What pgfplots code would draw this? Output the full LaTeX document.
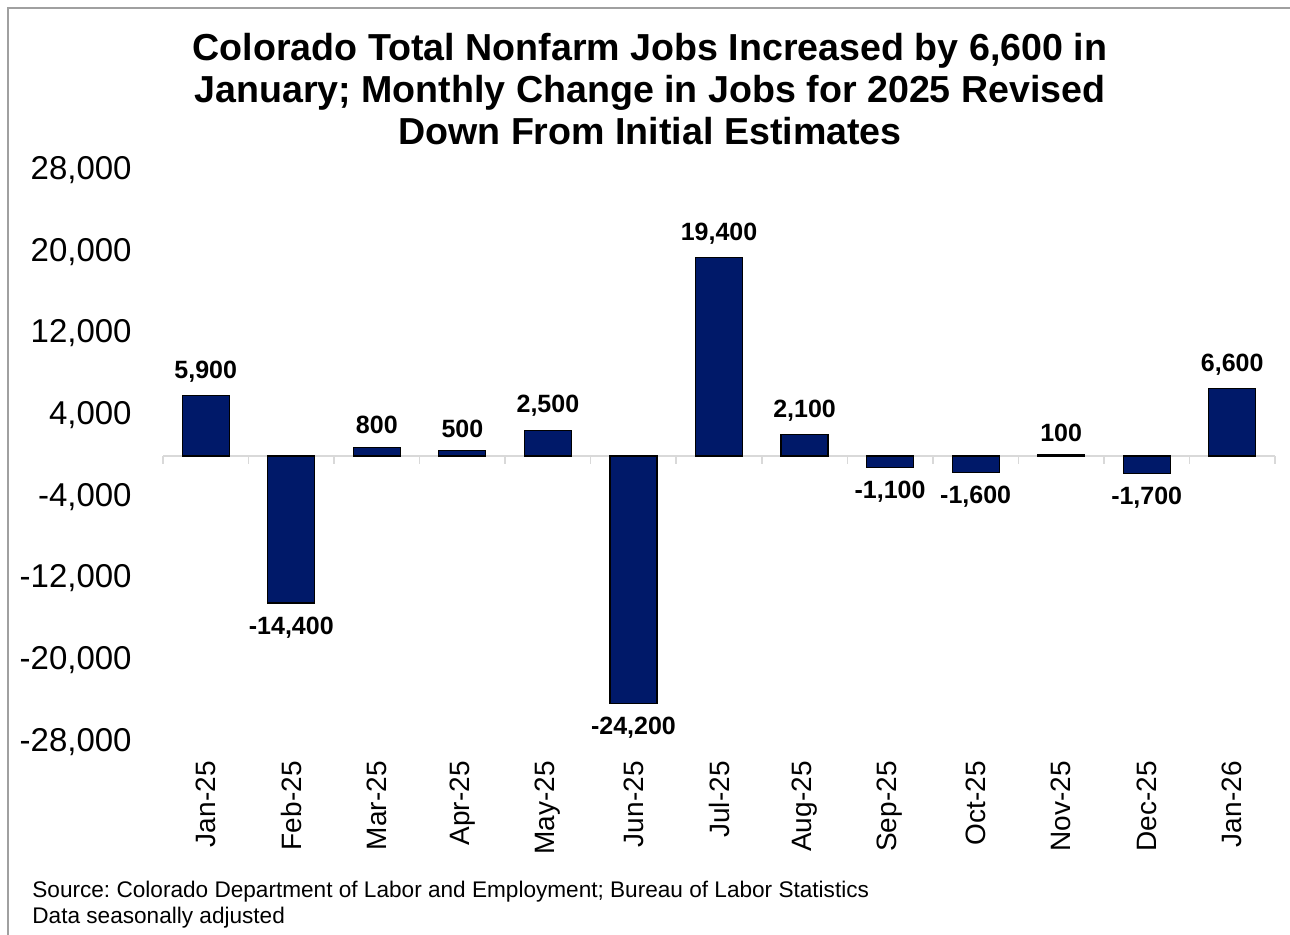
\documentclass[border=0pt]{standalone}
\usepackage{fontspec}
\setmainfont{Liberation Sans}
\usepackage{pgfplots}
\pgfplotsset{compat=1.18}
\definecolor{barnavy}{RGB}{0,25,105}
\definecolor{axisgray}{RGB}{217,217,217}
\definecolor{framegray}{RGB}{160,160,160}
\frenchspacing

\begin{document}
\begin{tikzpicture}
\useasboundingbox (0,0) rectangle (645pt,-467.5pt);
% outer frame (only top and left edges are visible)
\draw[framegray, line width=0.75pt] (4pt,-467.5pt) -- (4pt,-4pt) -- (645pt,-4pt);

\node[align=center, font=\fontsize{18.8}{21}\selectfont\bfseries] at (325pt,-44.5pt)
  {Colorado Total Nonfarm Jobs Increased by 6,600 in\\January; Monthly Change in Jobs for 2025 Revised\\Down From Initial Estimates};

\begin{axis}[
    at={(81.5pt,-371pt)}, anchor=south west,
    scale only axis, width=556pt, height=286pt,
    ybar, bar width=23.5pt,
    xmin=-0.5, xmax=12.5,
    ymin=-28000, ymax=28000,
    ytick={-28000,-20000,-12000,-4000,4000,12000,20000,28000},
    scaled y ticks=false,
    xtick=data,
    xticklabels={Jan-25,Feb-25,Mar-25,Apr-25,May-25,Jun-25,Jul-25,Aug-25,Sep-25,Oct-25,Nov-25,Dec-25,Jan-26},
    axis line style={draw=none},
    tick style={draw=none},
    major tick length=0pt,
    /pgf/number format/.cd, assume math mode=true, 1000 sep={,}, fixed, /pgfplots/.cd,
    yticklabel style={font=\fontsize{16.5}{18}\selectfont, anchor=east, inner sep=0pt, xshift=-15.5pt},
    xticklabel style={font=\fontsize{14}{16}\selectfont, yshift=-9.5pt, rotate=90, anchor=east, inner sep=0pt},
    nodes near coords,
    nodes near coords align=vertical,
    every node near coord/.append style={font=\fontsize{12.5}{14}\selectfont\bfseries, inner sep=6.5pt, black},
    clip=false,
]
\draw[axisgray, line width=0.75pt] (axis cs:-0.5,0) -- (axis cs:12.5,0);
\pgfplotsinvokeforeach{-0.5,0.5,1.5,2.5,3.5,4.5,5.5,6.5,7.5,8.5,9.5,10.5,11.5,12.5}{
  \draw[axisgray, line width=0.75pt] (axis cs:#1,0) -- ([yshift=-4pt]axis cs:#1,0);
}
\addplot[fill=barnavy, draw=black, line width=0.6pt] coordinates {
  (0,5900) (1,-14400) (2,800) (3,500) (4,2500) (5,-24200) (6,19400)
  (7,2100) (8,-1100) (9,-1600) (10,100) (11,-1700) (12,6600)
};
\end{axis}

\node[anchor=base west, inner sep=0pt, font=\fontsize{11.3}{13}\selectfont] at (16pt,-448.5pt)
  {Source: Colorado Department of Labor and Employment; Bureau of Labor Statistics};
\node[anchor=base west, inner sep=0pt, font=\fontsize{11.3}{13}\selectfont] at (16pt,-461.5pt)
  {Data seasonally adjusted};
\end{tikzpicture}
\end{document}
